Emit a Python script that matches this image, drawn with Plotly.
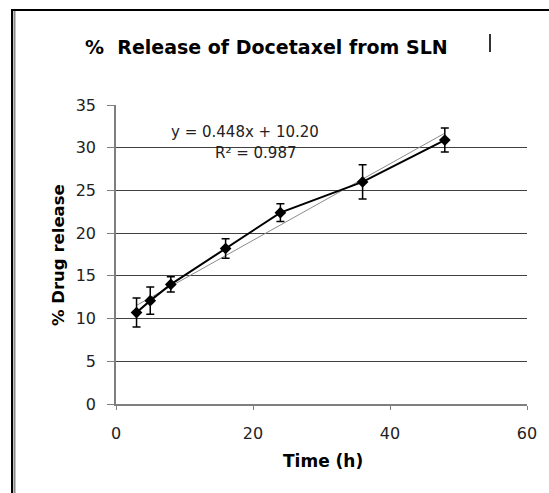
import plotly.graph_objects as go

# Data
time_h = [3, 5, 8, 16, 24, 36, 48]
release = [10.7, 12.1, 14.0, 18.2, 22.4, 26.0, 30.9]
sd = [1.7, 1.6, 0.9, 1.15, 1.05, 2.0, 1.4]
slope, intercept = 0.448, 10.20
trend_x = [min(time_h), max(time_h)]
trend_y = [slope * x + intercept for x in trend_x]

W, H = 549, 493
L, R, T, B = 116, 527, 105, 404

def px(x):
    return (x - L) / (R - L)

def py(y):
    return (B - y) / (B - T)

fig = go.Figure()
fig.add_trace(go.Scatter(
    x=trend_x, y=trend_y, mode="lines",
    line=dict(color="#8c8c8c", width=1), showlegend=False, hoverinfo="skip"))
fig.add_trace(go.Scatter(
    x=time_h, y=release, mode="lines+markers",
    line=dict(color="black", width=2),
    marker=dict(symbol="diamond", size=9, color="black"),
    error_y=dict(type="data", array=sd, color="black", thickness=1.5, width=4),
    showlegend=False))

wide = "DejaVu Sans, Verdana, sans-serif"

def pix_ann(x, y, text, size, angle=0, color="black"):
    return dict(x=px(x), y=py(y), xref="paper", yref="paper", text=text,
                xanchor="center", yanchor="middle", textangle=angle,
                showarrow=False, font=dict(family=wide, size=size, color=color))

fig.update_layout(
    width=W, height=H,
    margin=dict(l=L, r=W - R, t=T, b=H - B, autoexpand=False),
    paper_bgcolor="white", plot_bgcolor="white",
    font=dict(family=wide, size=15, color="#222"),
    xaxis=dict(range=[0, 60], dtick=20, tick0=0, showgrid=False, showline=True,
               linecolor="#7f7f7f", linewidth=1.5, ticks="outside", ticklen=4,
               tickcolor="#7f7f7f", zeroline=False, ticklabelstandoff=10,
               tickfont=dict(family=wide, size=16, color="#222")),
    yaxis=dict(range=[0, 35], dtick=5, tick0=0, showgrid=True, gridcolor="#404040",
               gridwidth=1, showline=True, linecolor="#7f7f7f", linewidth=1.5,
               ticks="outside", ticklen=7, tickcolor="#7f7f7f", zeroline=False,
               ticklabelstandoff=8,
               tickfont=dict(family=wide, size=16, color="#222")),
    annotations=[
        pix_ann(266, 47, "<b>%  Release of Docetaxel from SLN</b>", 19),
        pix_ann(323, 461, "<b>Time (h)</b>", 17),
        pix_ann(58, 255, "<b>% Drug release</b>", 16.5, angle=-90),
        pix_ann(245, 131.5, "y = 0.448x + 10.20", 15, color="#222"),
        pix_ann(255, 152.5, "R² = 0.987", 15, color="#222"),
    ],
    shapes=[
        dict(type="line", xref="paper", yref="paper", x0=px(11), x1=px(549), y0=py(10), y1=py(10),
             line=dict(color="black", width=2)),
        dict(type="line", xref="paper", yref="paper", x0=px(12), x1=px(12), y0=py(10), y1=py(493),
             line=dict(color="black", width=2)),
        dict(type="line", xref="paper", yref="paper", x0=px(14.5), x1=px(14.5), y0=py(11), y1=py(493),
             line=dict(color="#8a8a8a", width=2)),
        dict(type="line", xref="paper", yref="paper", x0=px(490), x1=px(490), y0=py(34), y1=py(52),
             line=dict(color="#333", width=2)),
    ],
)
fig.write_html("out.html", config={"displayModeBar": False},
               post_script="document.body.style.margin='0';")
